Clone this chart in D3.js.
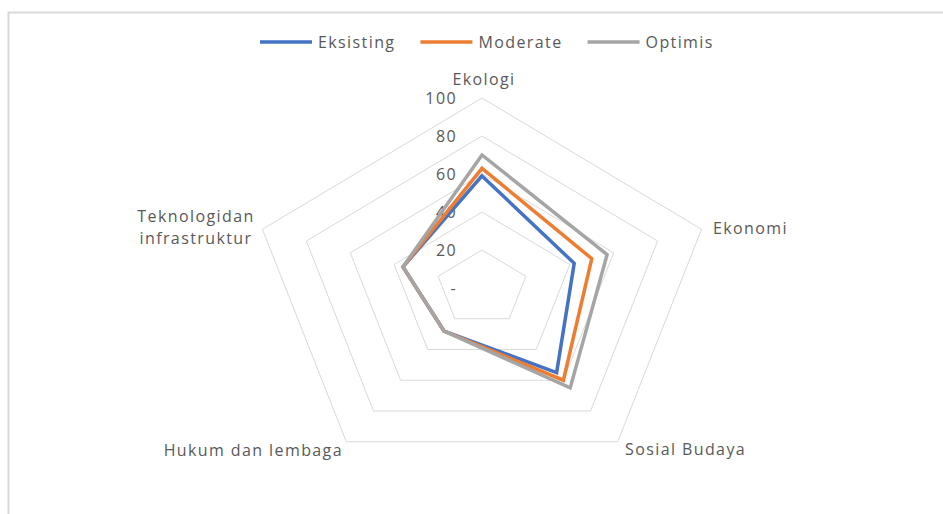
<!DOCTYPE html>
<html>
<head>
<meta charset="utf-8">
<script src="https://cdn.jsdelivr.net/npm/d3@7"></script>
<style>
  body { margin: 0; background: #fff; }
  text { font-family: "Open Sans", sans-serif; fill: #595959; }
</style>
</head>
<body>
<script>
// data
var axes     = ["Ekologi", "Ekonomi", "Sosial Budaya", "Hukum dan lembaga", "Teknologidan infrastruktur"]
  , series   = ["Eksisting", "Moderate", "Optimis"]
  , colors   = ["#4472C4", "#ED7D31", "#A5A5A5"]
  , eksisting = [59, 42, 55, 28, 36]
  , moderate  = [63, 50, 60, 28, 36]
  , optimis   = [70, 57, 65, 28, 36]
  , ticks     = [0, 20, 40, 60, 80, 100]
  , tickLabels = ["-", "20", "40", "60", "80", "100"]

var W = 943, H = 514
  , cx = 482, cy = 288
  , sx = 1.215   // picture is wider than tall
  , fs = "16px", ls = "1.4px"

var svg = d3.select("body").append("svg").attr("width", W).attr("height", H)

// chart frame
svg.append("rect").attr("x", 8.5).attr("y", 12.5).attr("width", 940).attr("height", 510)
   .attr("fill", "none").attr("stroke", "#d9d9d9").attr("stroke-width", 2)

var r = d3.scaleLinear().domain([0, 100]).range([0, 190])
  , angle = d3.scaleLinear().domain([0, axes.length]).range([0, 2 * Math.PI])

var pt = function (v, i) {
  var a = angle(i)
  return [cx + r(v) * Math.sin(a) * sx, cy - r(v) * Math.cos(a)]
}

var line = d3.line().curve(d3.curveLinearClosed)

// grid
svg.append("g").selectAll("path").data(ticks.slice(1)).join("path")
   .attr("d", function (t) { return line(axes.map(function (_, i) { return pt(t, i) })) })
   .attr("fill", "none").attr("stroke", "#d9d9d9").attr("stroke-width", 1)

// tick labels
svg.append("g").selectAll("text").data(ticks).join("text")
   .attr("x", 457).attr("y", function (t) { return cy - r(t) })
   .attr("dy", "0.35em").attr("text-anchor", "end")
   .style("font-size", fs).style("letter-spacing", ls)
   .text(function (t, i) { return tickLabels[i] })

// series
var data = [eksisting, moderate, optimis]
svg.append("g").selectAll("path").data(data).join("path")
   .attr("d", function (d) { return line(d.map(function (v, i) { return pt(v, i) })) })
   .attr("fill", "none")
   .attr("stroke", function (d, i) { return colors[i] })
   .attr("stroke-width", 3.5)
   .attr("stroke-linejoin", "miter")

// axis labels
var labelPos = [
    { x: 484, y: 79,  anchor: "middle", lines: ["Ekologi"] }
  , { x: 713, y: 228, anchor: "start",  lines: ["Ekonomi"] }
  , { x: 625, y: 449, anchor: "start",  lines: ["Sosial Budaya"] }
  , { x: 343, y: 450, anchor: "end",    lines: ["Hukum dan lembaga"] }
  , { x: 196, y: 216, anchor: "middle", lines: ["Teknologidan", "infrastruktur"] }
]
var lab = svg.append("g").selectAll("text").data(axes).join("text")
   .attr("text-anchor", function (d, i) { return labelPos[i].anchor })
   .style("font-size", fs).style("letter-spacing", ls)
lab.each(function (d, i) {
  var p = labelPos[i]
  d3.select(this).selectAll("tspan").data(p.lines).join("tspan")
    .attr("x", p.x).attr("y", function (s, k) { return p.y + k * 22 })
    .attr("dy", "0.35em").text(function (s) { return s })
})

// legend
var leg = svg.append("g"), lx = 260
series.forEach(function (s, i) {
  leg.append("line").attr("x1", lx).attr("x2", lx + 52).attr("y1", 42).attr("y2", 42)
     .attr("stroke", colors[i]).attr("stroke-width", 3.5)
  var t = leg.append("text").attr("x", lx + 58).attr("y", 42).attr("dy", "0.35em")
     .style("font-size", fs).style("letter-spacing", ls).text(s)
  lx += 58 + t.node().getComputedTextLength() + 25
})
</script>
</body>
</html>
